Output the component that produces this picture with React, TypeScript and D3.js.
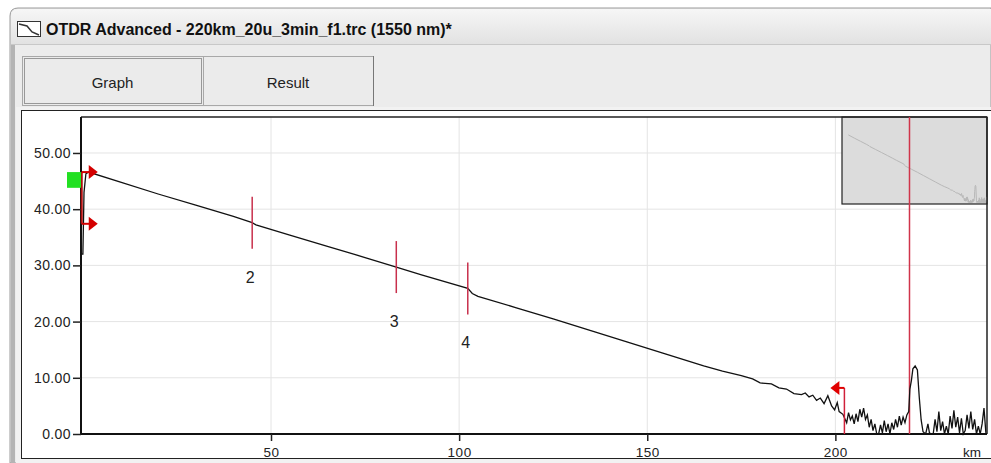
import React, { useEffect, useRef } from 'react';
import { select, scaleLinear, line, axisLeft, axisBottom } from 'd3';

// window texts
const windowTitle = 'OTDR Advanced - 220km_20u_3min_f1.trc (1550 nm)*';
const tabNames = ['Graph', 'Result'];

// axes
const yTicks = [0, 10, 20, 30, 40, 50];
const xTicks = [50, 100, 150, 200];
const xUnit = 'km';

// trace (km, dB)
const traceKm = [
  -0.5, 0, 0.3, 0.8, 1.5, 10, 20, 30, 40, 45, 46, 55, 65, 75, 83.3, 90, 102.3,
  103.5, 105, 115, 125, 135, 145, 155, 165, 170, 175, 178, 180, 183, 185, 187,
  189, 191, 192, 193, 194, 195, 196, 197, 198, 199, 199.8, 200.5, 201, 202,
  203, 203.5, 204, 204.5, 205, 205.5, 206, 206.5, 207, 207.5, 208, 208.5, 209,
  209.5, 210, 210.5, 211, 211.5, 212, 212.5, 213, 213.5, 214, 214.5, 215,
  215.5, 216, 216.5, 217, 217.5, 218, 218.5, 219, 219.5, 219.8, 220.2, 220.6,
  221.2, 221.8, 222.3, 222.8, 223.3, 224, 224.6, 225, 225.5, 226, 226.5, 227,
  227.5, 228, 228.5, 229, 229.5, 230, 230.5, 231, 231.5, 232, 232.5, 233,
  233.5, 234, 234.5, 235, 235.5, 236, 236.5, 237, 237.5, 238, 238.5, 239,
  239.5, 240,
];
const traceDb = [
  32, 32, 43, 46.3, 46.6, 44.8, 42.7, 40.7, 38.7, 37.6, 37.2, 35.4, 33.4, 31.4,
  29.7, 28.3, 25.9, 25.0, 24.5, 22.5, 20.5, 18.4, 16.3, 14.2, 12.1, 11.2, 10.4,
  9.8, 9.1, 8.9, 8.2, 8.0, 7.2, 7.0, 7.3, 6.6, 6.9, 6.0, 6.4, 5.4, 6.8, 5.0,
  4.3, 5.6, 4.0, 3.5, 2.0, 3.8, 2.5, 3.2, 1.8, 3.6, 2.2, 4.4, 3.0, 4.6, 2.6,
  3.4, 1.2, 2.6, 0.6, 1.8, 0.0, 0.0, 1.6, 0.2, 2.4, 0.4, 1.8, 0.0, 2.0, 0.8,
  2.6, 1.2, 3.2, 1.6, 3.0, 2.0, 3.4, 4.0, 8.0, 9.5, 11.6, 12.1, 11.4, 6.5, 2.5,
  0.4, 0.0, 1.8, 0.2, 0.0, 0.0, 2.6, 0.4, 4.0, 0.6, 2.2, 0.0, 1.4, 0.0, 3.2,
  1.0, 4.2, 1.2, 3.0, 0.2, 2.8, 0.0, 0.6, 3.4, 1.0, 4.0, 0.8, 2.6, 0.0, 1.4,
  0.0, 1.8, 4.6, 0.2,
];

// events
const eventLabels = ['2', '3', '4'];
const eventKm = [45, 83.3, 102.3];
const eventDb = [37.6, 29.7, 25.9];

// launch / end / cursor markers
const launchKm = -0.3;
const launchDb = [46.6, 37.4];
const endKm = 202.4;
const endDb = 8.2;
const cursorKm = 219.7;

const W = 991;
const H = 463;
const font = '"Liberation Sans", Arial, sans-serif';

const App = () => {
  const yAxisRef = useRef<SVGGElement>(null);
  const xAxisRef = useRef<SVGGElement>(null);

  const left = 81, right = 987, top = 117, bottom = 434;
  const x = scaleLinear().domain([-0.5, 240.3]).range([left, right]);
  const y = scaleLinear().domain([0, 56.4]).range([bottom, top]);
  // overview inset
  const xi = scaleLinear().domain([-0.5, 240.3]).range([842, right]);
  const yi = scaleLinear().domain([0, 56.4]).range([204, top]);

  const pts = traceKm.map((k, i) => [k, traceDb[i]] as [number, number]);
  const trace = line<[number, number]>().x((d) => x(d[0])).y((d) => y(d[1]));
  const traceInset = line<[number, number]>()
    .x((d) => xi(d[0]))
    .y((d) => yi(Math.max(d[1], 1)));

  useEffect(() => {
    const gy = select(yAxisRef.current);
    gy.call(
      axisLeft(y)
        .tickValues(yTicks)
        .tickSize(8)
        .tickPadding(2)
        .tickFormat((d) => (d as number).toFixed(2))
    );
    gy.select('.domain').remove();
    gy.selectAll('line').attr('stroke', '#222').attr('stroke-width', 1.5);
    gy.selectAll('text')
      .attr('font-family', font)
      .attr('font-size', 14)
      .attr('letter-spacing', 0.4)
      .attr('fill', '#222');

    const gx = select(xAxisRef.current);
    gx.call(axisBottom(x).tickValues(xTicks).tickSize(7).tickPadding(6));
    gx.select('.domain').remove();
    gx.selectAll('line').attr('stroke', '#222').attr('stroke-width', 1.5);
    gx.selectAll('text')
      .attr('font-family', font)
      .attr('font-size', 13.5)
      .attr('letter-spacing', 0.5)
      .attr('fill', '#222');
  }, []);

  return (
    <svg
      width={W}
      height={H}
      style={{ position: 'absolute', left: 0, top: 0, background: '#fff' }}
    >
      <defs>
        <linearGradient id="titleGrad" x1="0" y1="0" x2="0" y2="1">
          <stop offset="0" stopColor="#f6f6f6" />
          <stop offset="1" stopColor="#e2e2e2" />
        </linearGradient>
      </defs>

      {/* window frame */}
      <path d={`M10,${H} V16 Q10,8 18,8 H${W} V${H} Z`} fill="#ececec" stroke="#9a9a9a" />
      <path d={`M11,44 V17 Q11,9 19,9 H${W} V44 Z`} fill="url(#titleGrad)" />
      <line x1={11} x2={W} y1={44.5} y2={44.5} stroke="#c8c8c8" />
      <rect x={11} y={45} width={4} height={H - 45} fill="#b4b4b4" />

      {/* title icon */}
      <rect x={17.5} y={21.5} width={23} height={15} fill="#fff" stroke="#333" />
      <path d="M19,24 L27,26 L32,32 L39,35" fill="none" stroke="#333" strokeWidth={1.5} />
      <text x={46} y={35} fontFamily={font} fontWeight="bold" fontSize={16} fill="#111">
        {windowTitle}
      </text>

      {/* tabs */}
      {tabNames.map((t, i) => {
        const tx = i === 0 ? 22 : 203;
        const tw = i === 0 ? 181 : 170;
        return (
          <g key={t}>
            <rect x={tx + 0.5} y={56.5} width={tw} height={49} fill="#ebebeb" stroke="#a8a8a8" />
            {i === 0 && (
              <rect x={24.5} y={58.5} width={tw - 4} height={45} fill="none" stroke="#444"
                strokeDasharray="1,1" />
            )}
            <text x={tx + tw / 2} y={88} textAnchor="middle" fontFamily={font} fontSize={15} fill="#222">
              {t}
            </text>
          </g>
        );
      })}
      <line x1={373.5} x2={373.5} y1={56} y2={106} stroke="#777" />

      {/* content area */}
      <rect x={16} y={107} width={W - 16} height={H - 107} fill="#f2f2f2" />
      <rect x={21.5} y={110.5} width={W - 21} height={348} fill="#fff" stroke="#222" />

      {/* grid */}
      {yTicks.filter((t) => t > 0).map((t) => (
        <line key={'gy' + t} x1={left} x2={right} y1={y(t)} y2={y(t)} stroke="#e4e4e4" />
      ))}
      {xTicks.map((t) => (
        <line key={'gx' + t} x1={x(t)} x2={x(t)} y1={top} y2={bottom} stroke="#e4e4e4" />
      ))}

      {/* inset overview */}
      <rect x={842} y={top} width={right - 842} height={204 - top} fill="#dcdcdc" stroke="#222" strokeWidth={1.2} />
      <path d={traceInset(pts.filter((p) => p[0] > 1.5)) || ''} fill="none" stroke="#b8b8b8" strokeWidth={1} />

      {/* plot frame */}
      <line x1={left} x2={right} y1={top} y2={top} stroke="#222" strokeWidth={1.5} />
      <line x1={right} x2={right} y1={top} y2={bottom} stroke="#222" strokeWidth={1.5} />
      <line x1={left} x2={left} y1={top} y2={bottom + 1} stroke="#111" strokeWidth={2} />
      <line x1={left} x2={right} y1={bottom} y2={bottom} stroke="#111" strokeWidth={2} />

      <g ref={yAxisRef} transform={`translate(${left},0)`} />
      <g ref={xAxisRef} transform={`translate(0,${bottom})`} />
      <text x={972} y={457} textAnchor="middle" fontFamily={font} fontSize={13.5} fill="#222">
        {xUnit}
      </text>

      {/* cursor */}
      <line x1={x(cursorKm)} x2={x(cursorKm)} y1={top} y2={bottom} stroke="#d0344a" strokeWidth={1.5} />

      {/* trace */}
      <path d={trace(pts) || ''} fill="none" stroke="#111" strokeWidth={1.3} />

      {/* events */}
      {eventLabels.map((lab, i) => {
        const cx = x(eventKm[i]);
        const cy = y(eventDb[i]);
        return (
          <g key={lab}>
            <line x1={cx} x2={cx} y1={cy - 26} y2={cy + 26} stroke="#c8304c" strokeWidth={1.5} />
            <text x={cx - 2} y={cy + 60} textAnchor="middle" fontFamily={font} fontSize={16} fill="#222">
              {lab}
            </text>
          </g>
        );
      })}

      {/* launch markers */}
      <line x1={x(launchKm)} x2={x(launchKm)} y1={y(launchDb[0])} y2={y(launchDb[1])} stroke="#b01010" strokeWidth={2} />
      {launchDb.map((d) => {
        const lx = x(launchKm);
        const ly = y(d);
        return (
          <g key={'l' + d}>
            <line x1={lx} x2={lx + 8} y1={ly} y2={ly} stroke="#d40000" strokeWidth={2} />
            <path d={`M${lx + 7},${ly - 7} L${lx + 16},${ly} L${lx + 7},${ly + 7} Z`} fill="#d40000" />
          </g>
        );
      })}
      <rect x={67} y={y(46.6)} width={14} height={y(43.8) - y(46.6)} fill="#22e022" />

      {/* end marker */}
      <line x1={x(endKm)} x2={x(endKm)} y1={y(endDb)} y2={bottom} stroke="#d0203a" strokeWidth={1.5} />
      <line x1={x(endKm)} x2={x(endKm) - 6} y1={y(endDb)} y2={y(endDb)} stroke="#e00000" strokeWidth={2} />
      <path
        d={`M${x(endKm) - 5},${y(endDb) - 7} L${x(endKm) - 14},${y(endDb)} L${x(endKm) - 5},${y(endDb) + 7} Z`}
        fill="#e00000"
      />
    </svg>
  );
};

export default App;
